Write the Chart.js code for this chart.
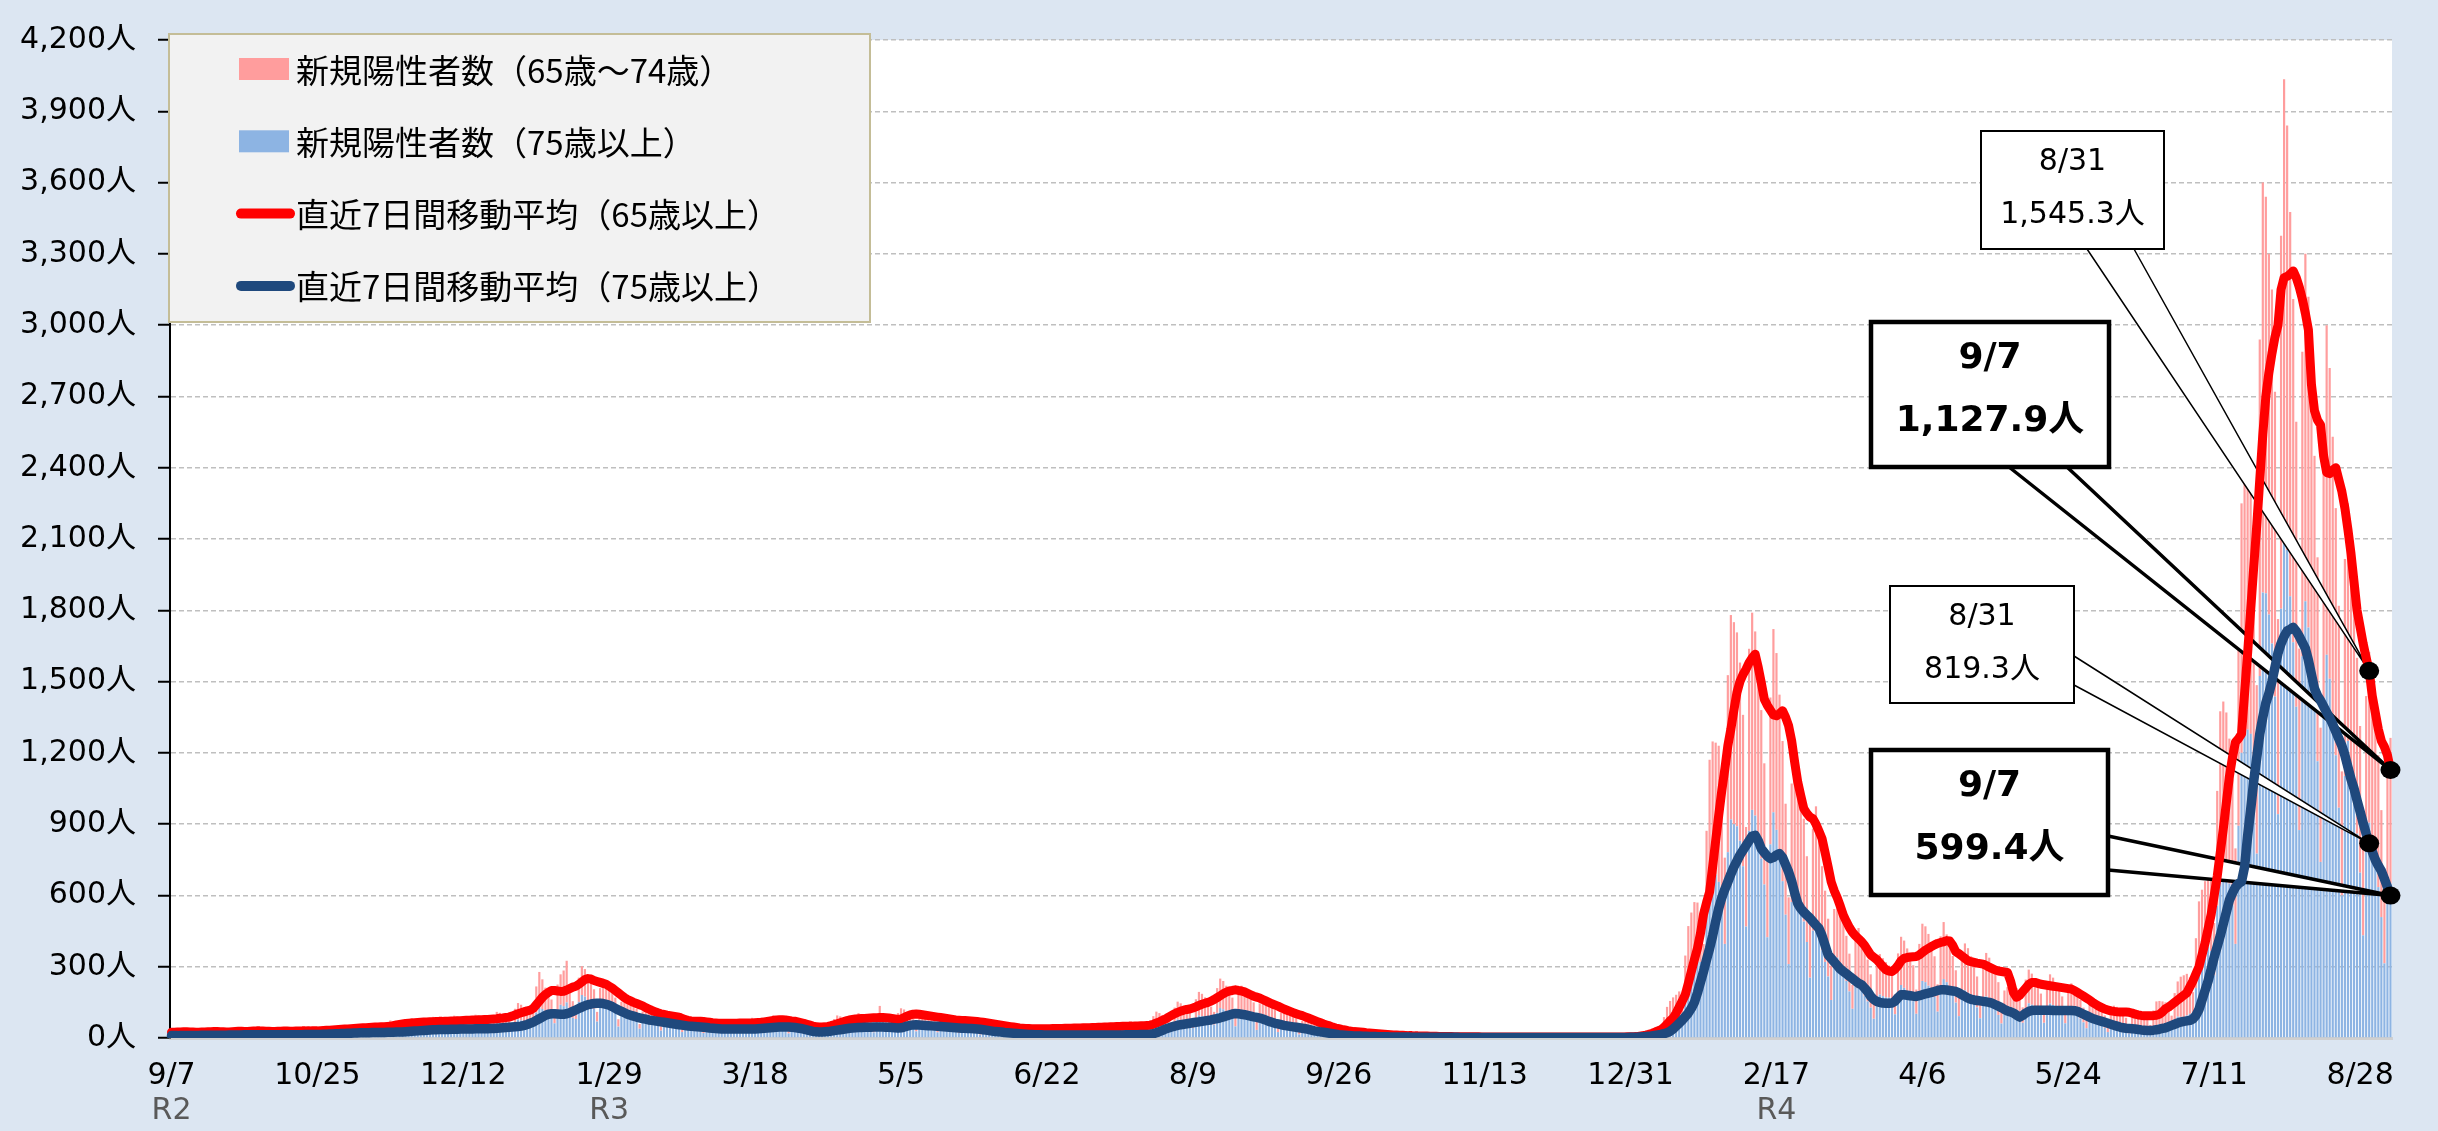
<!DOCTYPE html>
<html>
<head>
<meta charset="utf-8">
<script src="https://cdn.jsdelivr.net/npm/chart.js@4.4.1/dist/chart.umd.min.js"></script>
<style>
  html, body { margin: 0; padding: 0; background: #dce6f2; }
  canvas { display: block; }
</style>
</head>
<body>
<canvas id="myChart" width="2438" height="1131"></canvas>
<script>
// first day of the series (R2 9/7), one value per day
const startDate = [2020, 9, 7];
const tickStep = 48;
const tickLabels = ['9/7','10/25','12/12','1/29','3/18','5/5','6/22','8/9','9/26','11/13','12/31','2/17','4/6','5/24','7/11','8/28'];
const eraLabels = ['R2', 'R3', 'R4'];
const eraDays = [0, 144, 528];

// 新規陽性者数（65歳～74歳）, daily
const cases65to74 = [
  8,15,18,17,15,14,12, 8,15,17,17,15,14,12, 7,14,16,16,14,13,11, 8,16,19,18,17,15,13,
  7,14,16,16,14,13,11, 8,16,19,18,17,15,13, 8,16,19,18,17,15,13, 10,19,23,22,20,18,15,
  11,21,25,24,22,20,17, 13,25,30,29,26,24,20, 19,36,43,41,37,34,29, 19,37,44,42,39,35,30,
  19,37,44,42,39,35,30, 20,39,46,44,41,37,31, 21,41,49,47,43,39,33, 24,45,54,52,47,43,37,
  30,58,69,66,61,55,47, 60,110,150,125,100,90,75, 56,107,128,150,175,102,70, 53,102,121,116,107,97,82,
  41,79,94,90,83,75,64, 31,60,71,68,63,57,48, 20,38,45,43,40,36,31, 18,34,40,38,35,32,27,
  14,26,31,30,28,25,21, 13,25,30,29,26,24,20, 14,26,31,30,28,25,21, 15,28,34,32,30,27,23,
  17,32,38,36,33,30,26, 13,25,30,29,26,24,20, 12,23,28,26,24,22,19, 19,37,44,42,39,35,30,
  21,41,49,47,43,39,33, 21,40,80,46,42,38,32, 25,47,56,54,50,45,38, 22,42,50,48,44,40,34,
  18,35,41,40,36,33,28, 18,34,40,38,35,32,27, 17,32,38,36,33,30,26, 13,25,30,29,26,24,20,
  14,26,31,30,28,25,21, 15,28,34,32,30,27,23, 17,32,38,36,33,30,26, 18,35,41,40,36,33,28,
  19,37,44,42,39,35,30, 21,40,48,46,42,38,32, 25,48,58,55,51,46,39, 33,63,75,72,66,60,51,
  43,83,99,95,87,79,67, 54,104,124,119,109,99,84, 48,91,109,104,96,87,74, 42,81,96,92,85,77,65,
  31,60,71,68,63,57,48, 23,43,51,49,45,41,35, 14,26,31,30,28,25,21, 9,18,21,20,19,17,14,
  7,13,15,14,13,12,10, 4,8,10,10,9,8,7, 3,5,6,6,6,5,4, 2,3,4,4,3,3,3,
  1,2,3,2,2,2,2, 1,2,3,2,2,2,2, 1,2,3,2,2,2,2, 1,2,3,2,2,2,2,
  1,2,3,2,2,2,2, 1,2,3,2,2,2,2, 1,2,3,2,2,2,2, 1,2,3,2,2,2,2,
  2,3,4,4,3,3,3, 4,11,16,20,22,27,30, 25,48,68,82,88,92,107, 85,189,233,246,264,240,203,
  159,357,490,540,555,573,518, 363,745,860,850,816,750,637, 419,766,830,775,698,625,510,
  322,618,771,744,676,590,467, 281,499,543,514,467,433,361, 225,429,487,444,354,300,243,
  145,249,275,246,215,190,159, 100,189,219,210,196,176,140, 84,148,170,160,148,135,121,
  84,167,203,199,184,172,151, 102,198,241,235,218,199,171, 115,218,240,201,182,163,136,
  87,166,198,188,172,157,130, 81,154,183,177,167,158,138, 71,90,94,110,110,105,96,
  65,123,142,131,117,105,88, 56,105,123,115,103,92,77, 48,91,105,98,88,78,62,
  37,67,77,72,66,60,52, 36,69,85,83,76,67,54, 34,65,78,75,68,61,52,
  35,74,100,98,96,92,82, 57,115,148,169,176,175,153, 105,210,275,276,286,295,297,
  220,483,650,684,671,610,529, 402,808,1050,1080,1073,1070,1011, 709,1417,1725,1668,1518,1490,1283,
  821,1570,1875,1786,1617,1445,1199, 764,1281,1462,1392,1276,1055,858, 565,1124,1387,1308,1177,1040,850,
  522,913,1000,932,830,740,617, 360,651,719,656,611,555,450, 286,531,613
];

// 新規陽性者数（75歳以上）, daily
const cases75plus = [
  6,12,14,13,12,11,9, 7,13,15,14,13,12,10, 7,14,16,16,14,13,11, 8,15,18,17,15,14,12,
  8,15,18,17,15,14,12, 8,15,18,17,15,14,12, 8,16,19,18,17,15,13, 10,19,23,22,20,18,15,
  12,23,28,26,24,22,19, 13,24,29,28,25,23,20, 14,26,31,30,28,25,21, 18,34,40,38,35,32,27,
  20,38,45,43,40,36,31, 21,40,48,46,42,38,32, 21,41,49,47,43,39,33, 25,47,56,54,50,45,38,
  34,65,78,74,68,62,53, 56,107,128,122,112,102,87, 62,118,140,134,150,112,85, 80,152,181,174,160,145,123,
  69,131,156,150,138,125,106, 48,92,110,106,97,88,75, 39,74,88,84,77,70,60, 31,59,70,67,62,56,48,
  25,48,58,55,51,46,39, 21,40,48,46,42,38,32, 21,40,48,46,42,38,32, 23,43,51,49,45,41,35,
  25,48,58,55,51,46,39, 19,36,43,41,37,34,29, 15,28,34,32,30,27,23, 23,43,51,49,45,41,35,
  25,47,56,54,50,45,38, 24,46,55,53,48,44,37, 30,58,69,66,61,55,47, 28,53,63,60,55,50,43,
  24,45,54,52,47,43,37, 21,40,48,46,42,38,32, 14,27,33,31,29,26,22, 10,19,23,22,20,18,15,
  8,15,18,17,15,14,12, 7,14,16,16,14,13,11, 7,14,16,16,14,13,11, 7,14,16,16,14,13,11,
  8,15,18,17,15,14,12, 8,16,19,18,17,15,13, 23,44,53,50,46,42,36, 34,65,78,74,68,62,53,
  42,80,95,91,84,76,65, 56,106,126,121,111,101,86, 49,93,111,107,98,89,76, 34,65,78,74,68,62,53,
  25,47,56,54,50,45,38, 15,29,35,34,31,28,24, 8,15,18,17,15,14,12, 4,8,10,10,9,8,7,
  3,5,6,6,6,5,4, 2,4,5,5,4,4,3, 2,3,4,4,3,3,3, 2,3,4,4,3,3,3,
  1,2,3,2,2,2,2, 1,2,3,2,2,2,2, 1,2,3,2,2,2,2, 1,2,3,2,2,2,2,
  1,2,3,2,2,2,2, 1,2,3,2,2,2,2, 1,2,3,2,2,2,2, 1,2,3,2,2,2,2,
  2,3,4,4,3,3,3, 4,9,14,16,17,18,19, 15,40,63,74,83,90,89, 69,158,238,282,308,330,320,
  237,515,681,708,688,657,587, 396,782,920,900,891,830,723, 469,872,960,936,842,755,646,
  424,815,950,876,769,660,519, 311,572,663,620,556,490,404, 254,452,488,420,369,320,259,
  160,294,338,312,275,240,196, 123,221,244,210,178,154,128, 81,153,183,176,171,170,155,
  100,189,223,211,193,178,155, 102,198,240,235,220,203,173, 111,210,248,235,209,182,149,
  92,171,200,190,172,154,129, 83,153,175,161,141,120,97, 61,110,120,106,105,105,95,
  64,123,146,140,129,117,99, 64,122,145,139,128,116,98, 62,111,125,113,97,82,66,
  41,74,83,74,64,54,43, 25,45,51,48,43,38,31, 19,35,40,38,35,33,30,
  20,42,54,58,58,58,54, 37,74,90,89,88,95,102, 88,210,300,348,374,385,366,
  264,557,725,732,699,650,559, 396,893,1200,1296,1298,1280,1148, 776,1523,1875,1872,1782,1660,1437,
  942,1806,2160,2054,1859,1665,1394, 875,1607,1838,1728,1562,1395,1165, 741,1386,1613,1512,1353,1190,969,
  600,1103,1250,1144,996,860,696, 432,788,906,844,737,635,509, 314,572,650
];

// 直近7日間移動平均（65歳以上）
const avg65plus = [
  24,24,25,25,26,26,25, 25,24,24,25,25,26,26, 27,27,26,26,25,25,26, 27,28,28,27,27,28,29,
  30,30,29,28,28,27,27, 28,28,29,29,28,28,29, 29,30,30,31,30,30,30, 31,32,33,33,34,35,36,
  37,38,38,39,40,41,42, 43,43,44,45,46,46,47, 47,48,49,52,55,57,59, 61,62,63,64,65,66,67,
  67,68,68,69,70,70,71, 71,72,72,73,73,74,75, 75,76,76,77,77,78,78, 79,80,81,83,84,86,88,
  92,97,102,106,110,114,117, 125,140,155,171,183,192,200, 200,198,196,197,202,208,214, 218,226,236,246,250,248,242,
  238,234,230,226,218,210,200, 190,180,170,162,156,150,145, 140,135,128,122,116,111,106, 102,99,96,94,92,90,88,
  82,77,74,72,71,71,71, 70,68,66,64,63,62,62, 62,62,62,62,62,63,63, 63,63,63,64,65,66,68,
  70,72,74,76,77,77,76, 74,72,71,68,65,62,58, 54,50,48,46,46,47,49, 52,56,60,64,68,72,76,
  78,80,81,82,82,83,84, 85,85,86,86,85,84,82, 80,78,80,86,92,97,100, 101,100,98,96,94,92,90,
  88,86,84,82,80,78,76, 75,74,74,73,72,71,70, 68,66,64,62,60,58,56, 54,52,50,48,46,44,42,
  41,40,40,39,39,39,39, 39,39,39,40,40,40,40, 41,41,41,42,42,42,43, 43,43,44,44,45,45,46,
  46,47,47,48,48,49,49, 50,50,51,51,52,52,53, 54,58,63,68,74,80,88, 95,102,108,113,117,120,122,
  126,131,137,142,146,150,155, 162,170,178,186,193,198,200, 203,200,198,194,188,182,176, 172,168,162,156,150,144,139,
  134,128,122,117,112,107,102, 98,94,89,84,79,74,69, 64,59,55,51,46,42,39, 36,34,31,29,27,26,25,
  24,22,21,20,19,18,17, 16,15,14,13,13,12,12, 11,10,10,9,9,8,8, 8,7,7,7,6,6,6,
  6,6,5,5,5,5,5, 5,5,5,5,4,4,4, 4,4,4,4,4,4,4, 4,4,4,4,4,4,4,
  4,4,4,4,4,4,4, 4,4,4,4,4,4,4, 4,4,4,4,4,4,4, 4,4,4,4,4,4,4,
  4,4,4,5,5,5,6, 8,10,12,15,19,24,30, 35,45,58,72,84,105,130, 155,182,230,280,330,377,440,
  520,570,615,720,830,937,1040, 1130,1230,1300,1380,1454,1500,1530, 1552,1580,1600,1615,1560,1496,1426,
  1400,1380,1360,1356,1365,1377,1350, 1314,1250,1160,1077,1020,965,945, 930,923,900,870,839,780,720,
  657,620,590,555,517,490,465, 445,430,418,405,390,370,350, 340,330,315,300,287,282,280,
  290,305,325,335,339,341,342, 343,350,360,370,377,385,392, 398,402,405,410,408,390,363,
  355,345,335,325,321,318,315, 313,311,305,298,292,286,282, 280,278,276,240,190,171,180,
  195,210,225,234,234,230,226, 224,222,220,218,216,214,212, 210,208,206,200,192,184,176,
  168,160,150,142,134,128,122, 118,114,112,110,109,109,109, 108,105,100,97,95,94,94,
  94,94,96,100,110,123,130, 140,150,160,170,180,190,215, 240,270,300,350,400,460,520,
  600,680,780,880,990,1100,1180, 1245,1260,1280,1450,1620,1800,1980, 2155,2350,2540,2700,2800,2880,2950,
  3000,3150,3200,3205,3215,3228,3200, 3160,3110,3050,2980,2750,2640,2600, 2580,2450,2380,2375,2390,2400,2350,
  2300,2230,2140,2040,1920,1800,1730, 1660,1600,1545.3,1440,1370,1300,1250, 1225,1190,1127.9
];

// 直近7日間移動平均（75歳以上）
const avg75plus = [
  10,10,10,11,11,11,11, 11,11,11,12,12,12,12, 12,12,12,12,12,13,13, 13,13,13,14,14,14,14,
  14,14,14,14,14,14,14, 14,14,14,14,14,14,14, 14,14,15,15,15,15,15, 15,16,16,17,17,18,18,
  19,19,20,20,21,21,22, 22,22,22,23,23,23,23, 23,24,24,24,25,25,25, 26,27,28,29,30,31,32,
  33,34,35,35,36,36,36, 36,37,37,37,38,38,38, 38,38,39,39,39,39,39, 40,40,41,42,43,44,45,
  46,47,48,50,53,57,62, 67,74,81,88,95,100,102, 102,101,100,100,102,106,112, 118,124,130,136,140,143,145,
  146,146,145,142,138,132,125, 118,112,106,100,96,92,88, 85,82,79,76,74,72,70, 68,66,64,62,60,58,56,
  54,52,50,49,48,47,46, 45,44,42,41,40,39,38, 38,38,38,38,38,38,38, 38,38,38,38,39,40,41,
  42,43,44,45,46,46,46, 46,45,44,42,40,37,34, 31,28,26,25,25,26,27, 29,31,33,35,37,39,41,
  42,43,44,44,45,45,45, 46,46,46,46,45,45,44, 43,42,43,46,50,53,55, 56,55,54,53,52,51,50,
  49,48,47,46,45,44,43, 42,41,41,40,40,39,38, 37,35,33,31,29,27,26, 25,23,22,21,20,19,18,
  17,16,15,15,14,14,14, 13,13,13,13,13,13,13, 13,13,13,13,13,13,13, 13,13,13,13,13,13,13,
  13,13,13,13,13,13,14, 14,14,14,14,15,15,15, 16,18,22,27,32,38,42, 46,50,53,56,58,60,62,
  64,66,68,70,72,74,76, 79,82,85,89,93,97,101, 103,102,100,98,95,92,89, 87,84,80,75,70,66,62,
  59,56,53,51,49,47,45, 43,41,39,36,33,30,28, 26,24,22,20,18,16,14, 13,12,11,10,9,8,8,
  7,7,6,6,6,5,5, 5,5,4,4,4,4,4, 4,4,3,3,3,3,3, 3,3,3,3,3,3,3,
  3,3,3,3,2,2,2, 2,2,2,2,2,2,2, 2,2,2,2,2,2,2, 2,2,2,2,2,2,2,
  2,2,2,2,2,2,2, 2,2,2,2,2,2,2, 2,2,2,2,2,2,2, 2,2,2,2,2,2,2,
  2,2,2,2,3,3,3, 4,5,6,7,9,11,13, 15,18,22,28,38,50,62, 75,90,105,125,150,190,235,
  280,330,377,430,490,545,590, 625,657,690,720,745,770,790, 810,830,850,853,830,797,780,
  765,755,760,770,776,760,730, 699,660,610,566,545,530,517, 505,490,475,461,430,390,350,
  335,320,305,290,280,270,260, 250,240,230,224,210,195,175, 162,154,150,147,146,146,147,
  155,170,182,182,180,178,176, 175,178,182,186,189,192,196, 200,203,203,202,200,198,196,
  190,182,175,168,163,160,158, 156,154,152,150,146,140,134, 128,120,114,110,105,96,88,
  95,105,112,116,117,117,117, 117,117,117,116,116,116,116, 116,116,116,115,112,106,100,
  94,88,82,78,74,70,66, 62,58,54,50,46,43,41, 40,39,38,36,34,33,32,
  32,33,35,37,40,43,48, 53,58,63,67,70,72,74, 80,95,120,160,200,240,290,
  340,385,430,480,530,580,610, 635,650,658,720,850,960,1080, 1180,1280,1350,1410,1450,1500,1560,
  1620,1660,1690,1713,1720,1728,1712, 1690,1665,1640,1590,1530,1470,1440, 1420,1395,1370,1348,1320,1290,1260,
  1230,1190,1140,1090,1050,1000,953, 905,860,819.3,785,750,725,703, 670,635,599.4
];

// annotated points: [dataset index, day index]
const calloutPoints = [[1, 723], [1, 730], [0, 723], [0, 730]];

// day labels for the category axis
const dayLabels = [];
for (let i = 0; i < avg65plus.length; i++) {
    let d = new Date(startDate[0], startDate[1] - 1, startDate[2] + i);
    dayLabels.push((d.getMonth() + 1) + '/' + d.getDate());
}

const fontFamily = "'DejaVu Sans', 'Noto Sans CJK JP', sans-serif";
const cjkFamily = "'Noto Sans CJK JP', sans-serif";

// boxes of the callouts, in canvas pixels
const calloutBoxes = [
    { x: 1981, y: 131, w: 183, h: 118, bold: false, base: [[2087, 249], [2134, 249]] },
    { x: 1871, y: 322, w: 238, h: 145, bold: true,  base: [[2009, 467], [2067, 467]] },
    { x: 1890, y: 586, w: 184, h: 117, bold: false, base: [[2074, 656], [2074, 685]] },
    { x: 1871, y: 750, w: 237, h: 145, bold: true,  base: [[2108, 836], [2108, 870]] }
];

function callout_tip( chart, i ) {
    const ds = chart.data.datasets[calloutPoints[i][0]];
    const day = calloutPoints[i][1];
    return [chart.scales.x.getPixelForValue(day), chart.scales.y.getPixelForValue(ds.data[day])];
}

const backgroundPlugin = {
    id: 'background',
    beforeDraw(chart) {
        const ctx = chart.ctx;
        const a = chart.chartArea;
        ctx.save();
        ctx.fillStyle = '#dce6f2';
        ctx.fillRect(0, 0, chart.width, chart.height);
        ctx.fillStyle = '#ffffff';
        ctx.fillRect(a.left, a.top, a.right - a.left, a.bottom - a.top);
        ctx.restore();
    }
};

const calloutPlugin = {
    id: 'callouts',
    // wedges sit above the bars but under the average lines
    beforeDatasetDraw(chart, args) {
        if (args.index != 1) return;
        const ctx = chart.ctx;
        ctx.save();
        for (let i = 0; i < calloutBoxes.length; i++) {
            const b = calloutBoxes[i];
            const tip = callout_tip(chart, i);
            ctx.beginPath();
            ctx.moveTo(b.base[0][0], b.base[0][1]);
            ctx.lineTo(tip[0], tip[1]);
            ctx.lineTo(b.base[1][0], b.base[1][1]);
            ctx.closePath();
            ctx.fillStyle = '#ffffff';
            ctx.fill();
            ctx.beginPath();
            ctx.moveTo(b.base[0][0], b.base[0][1]);
            ctx.lineTo(tip[0], tip[1]);
            ctx.lineTo(b.base[1][0], b.base[1][1]);
            ctx.strokeStyle = '#000';
            ctx.lineWidth = b.bold ? 3.5 : 1.5;
            ctx.lineJoin = 'miter';
            ctx.stroke();
        }
        ctx.restore();
    },
    afterDatasetsDraw(chart) {
        const ctx = chart.ctx;
        ctx.save();
        // dots
        for (let i = 0; i < calloutBoxes.length; i++) {
            const tip = callout_tip(chart, i);
            ctx.beginPath();
            ctx.ellipse(tip[0], tip[1], 10, 9, 0, 0, Math.PI * 2);
            ctx.fillStyle = '#000';
            ctx.fill();
        }
        // boxes
        for (let i = 0; i < calloutBoxes.length; i++) {
            const b = calloutBoxes[i];
            const ds = chart.data.datasets[calloutPoints[i][0]];
            const day = calloutPoints[i][1];
            const value = ds.data[day].toLocaleString('en-US', { minimumFractionDigits: 1, maximumFractionDigits: 1 }) + '人';
            ctx.fillStyle = '#fff';
            ctx.fillRect(b.x, b.y, b.w, b.h);
            ctx.strokeStyle = '#000';
            ctx.lineWidth = b.bold ? 4.5 : 2;
            ctx.strokeRect(b.x, b.y, b.w, b.h);
            ctx.fillStyle = '#000';
            ctx.textAlign = 'center';
            ctx.textBaseline = 'middle';
            const cx = b.x + b.w / 2;
            if (b.bold) {
                ctx.font = 'bold 36px ' + fontFamily;
                ctx.fillText(dayLabels[day], cx, b.y + 37);
                ctx.fillText(value, cx, b.y + 100);
            } else {
                ctx.font = '30px ' + fontFamily;
                ctx.fillText(dayLabels[day], cx, b.y + 31);
                ctx.fillText(value, cx, b.y + 84);
            }
        }
        ctx.restore();
    },
    afterDraw(chart) {
        // era labels under the date ticks
        const ctx = chart.ctx;
        ctx.save();
        ctx.font = '30px ' + fontFamily;
        ctx.fillStyle = '#595959';
        ctx.textAlign = 'center';
        ctx.textBaseline = 'middle';
        for (let i = 0; i < eraLabels.length; i++) {
            ctx.fillText(eraLabels[i], chart.scales.x.getPixelForValue(eraDays[i]), 1111);
        }
        ctx.restore();
    }
};

const legendPlugin = {
    id: 'boxLegend',
    afterDatasetsDraw(chart) {
        const ctx = chart.ctx;
        const order = [3, 2, 1, 0];
        ctx.save();
        ctx.fillStyle = '#f2f2f2';
        ctx.fillRect(169, 34, 701, 288);
        ctx.strokeStyle = '#c4bd97';
        ctx.lineWidth = 2;
        ctx.strokeRect(169, 34, 701, 288);
        ctx.font = '33px ' + cjkFamily;
        ctx.textBaseline = 'middle';
        ctx.textAlign = 'left';
        for (let i = 0; i < order.length; i++) {
            const ds = chart.data.datasets[order[i]];
            const cy = 69 + i * 72.3;
            if (ds.type == 'bar') {
                ctx.fillStyle = ds.backgroundColor;
                ctx.fillRect(239, cy - 11, 50, 22);
            } else {
                ctx.strokeStyle = ds.borderColor;
                ctx.lineWidth = 10;
                ctx.lineCap = 'round';
                ctx.beginPath();
                ctx.moveTo(241, cy);
                ctx.lineTo(290, cy);
                ctx.stroke();
            }
            ctx.fillStyle = '#000';
            ctx.fillText(ds.label, 296, cy + 1);
        }
        ctx.restore();
    }
};

const data = {
    labels: dayLabels,
    datasets: [
        {
            type: 'line',
            label: '直近7日間移動平均（75歳以上）',
            data: avg75plus,
            borderColor: '#1f497d',
            borderWidth: 9.5,
            pointRadius: 0,
            borderJoinStyle: 'round',
            borderCapStyle: 'round',
            stack: 'avg75',
            order: 0
        },
        {
            type: 'line',
            label: '直近7日間移動平均（65歳以上）',
            data: avg65plus,
            borderColor: '#ff0000',
            borderWidth: 9,
            pointRadius: 0,
            borderJoinStyle: 'round',
            borderCapStyle: 'round',
            stack: 'avg65',
            order: 1
        },
        {
            type: 'bar',
            label: '新規陽性者数（75歳以上）',
            data: cases75plus,
            backgroundColor: '#8db4e3',
            barPercentage: 0.72,
            categoryPercentage: 1.0,
            stack: 'cases',
            order: 2
        },
        {
            type: 'bar',
            label: '新規陽性者数（65歳～74歳）',
            data: cases65to74,
            backgroundColor: '#ff9d9d',
            barPercentage: 0.72,
            categoryPercentage: 1.0,
            stack: 'cases',
            order: 3
        }
    ]
};

const config = {
    type: 'bar',
    data: data,
    options: {
        responsive: false,
        animation: false,
        devicePixelRatio: 1,
        layout: { padding: { top: 34, right: 46, bottom: 0, left: 0 } },
        plugins: {
            legend: { display: false },
            tooltip: { enabled: false }
        },
        scales: {
            x: {
                stacked: true,
                offset: true,
                grid: { display: true, drawOnChartArea: false, drawTicks: false },
                border: { display: true, color: '#d0d0d0', width: 3 },
                ticks: {
                    autoSkip: false,
                    maxRotation: 0,
                    minRotation: 0,
                    padding: 20,
                    color: '#000',
                    font: { size: 30, family: fontFamily },
                    callback: function(val, index) {
                        return index % tickStep == 0 ? tickLabels[index / tickStep] : null;
                    }
                },
                afterFit: function(scale) { scale.height = 93; }
            },
            y: {
                stacked: true,
                min: 0,
                max: 4200,
                grid: {
                    color: function(c) { return c.tick && c.tick.value == 0 ? 'rgba(0,0,0,0)' : '#bfbfbf'; },
                    lineWidth: 1.5,
                    tickColor: '#000',
                    tickLength: 12,
                    tickWidth: 2
                },
                border: { display: true, color: '#000', width: 2, dash: [5, 3] },
                ticks: {
                    stepSize: 300,
                    padding: 22,
                    color: '#000',
                    font: { size: 30, family: fontFamily },
                    callback: function(v) { return v.toLocaleString('en-US') + '人'; }
                },
                afterFit: function(scale) { scale.width = 170; }
            }
        }
    },
    plugins: [backgroundPlugin, calloutPlugin, legendPlugin]
};

const myChart = new Chart(document.getElementById('myChart'), config);
</script>
</body>
</html>
